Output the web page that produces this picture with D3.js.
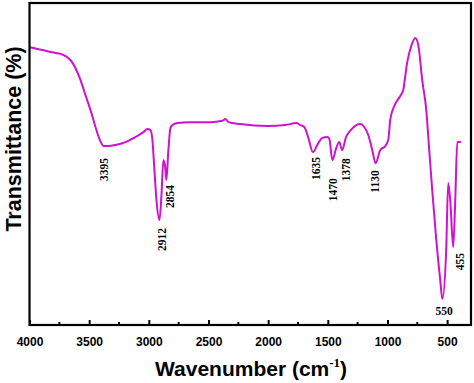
<!DOCTYPE html>
<html>
<head>
<meta charset="utf-8">
<script src="https://cdn.jsdelivr.net/npm/d3@7"></script>
<style>
  body { margin: 0; background: #fff; }
</style>
</head>
<body>
<div id="chart"></div>
<script>
// FTIR spectrum
let wavenumber = [4000, 3891, 3824, 3782, 3740, 3698, 3657, 3615, 3573, 3531, 3489, 3447, 3414, 3380, 3338, 3280, 3196, 3112, 3045, 3012, 2987, 2970, 2953, 2936, 2911, 2894, 2878, 2865, 2853, 2836, 2819, 2802, 2760, 2652, 2484, 2384, 2358, 2333, 2233, 2007, 1856, 1764, 1730, 1697, 1663, 1625, 1580, 1546, 1504, 1487, 1462, 1429, 1404, 1380, 1347, 1306, 1261, 1228, 1194, 1161, 1127, 1100, 1061, 1018, 993, 977, 943, 893, 868, 834, 801, 767, 742, 709, 675, 650, 625, 591, 558, 540, 508, 491, 474, 449, 432, 415, 385];
let transmittance = [86.3, 85.4, 84.8, 84.5, 84.2, 83.5, 82.3, 79.8, 76.1, 71.4, 66.8, 61.5, 57.8, 55.6, 55.6, 55.9, 56.8, 58.4, 59.9, 60.9, 60.6, 57.5, 48.1, 38.8, 32.6, 40.4, 51.2, 49.7, 45.0, 54.3, 61.2, 62.1, 62.7, 63.0, 63.0, 63.4, 64.0, 63.0, 62.4, 61.8, 62.1, 62.7, 62.1, 61.5, 58.1, 53.7, 56.5, 58.1, 58.4, 57.8, 51.2, 55.0, 56.8, 54.3, 58.4, 60.6, 62.1, 62.4, 61.5, 59.0, 54.3, 50.2, 54.3, 55.6, 57.5, 63.7, 68.0, 71.1, 73.0, 81.7, 86.6, 89.1, 87.0, 76.1, 66.8, 54.3, 41.9, 26.4, 14.0, 8.1, 23.3, 44.1, 38.8, 24.2, 38.8, 56.8, 56.8];

let peakLabels = ["3395", "2912", "2854", "1635", "1470", "1378", "1130", "455"];
let peakWave = [3395, 2912, 2854, 1635, 1470, 1378, 1130, 455];
let horizLabel = "550";
let horizWave = 550;

let xTicks = [4000, 3500, 3000, 2500, 2000, 1500, 1000, 500];
let xMinorTicks = [3750, 3250, 2750, 2250, 1750, 1250, 750];

let w = 474;
let h = 383;
let mLeft = 29.5, mRight = 471, mTop = 3, mBottom = 325;

let svg = d3.select("#chart").append("svg")
  .attr("width", w)
  .attr("height", h);

let xScale = d3.scaleLinear().domain([4000, 300]).range([mLeft, mRight]);
let yScale = d3.scaleLinear().domain([0, 100]).range([mBottom, mTop]);

// spectrum line
let line = d3.line()
  .x((d, i) => xScale(wavenumber[i]))
  .y(d => yScale(d))
  .curve(d3.curveMonotoneX);

svg.append("path")
  .datum(transmittance)
  .attr("d", line)
  .attr("fill", "none")
  .attr("stroke", "#d012d0")
  .attr("stroke-width", 2)
  .attr("stroke-linejoin", "round");

// frame
svg.append("rect")
  .attr("x", mLeft)
  .attr("y", mTop)
  .attr("width", mRight - mLeft)
  .attr("height", mBottom - mTop)
  .attr("fill", "none")
  .attr("stroke", "black")
  .attr("stroke-width", 2.2);

// bottom axis, ticks pointing in
let xAxis = d3.axisBottom(xScale)
  .tickValues(xTicks)
  .tickFormat(d3.format("d"))
  .tickSize(-5)
  .tickPadding(12);

let gx = svg.append("g")
  .attr("transform", "translate(0," + mBottom + ")")
  .call(xAxis);
gx.select(".domain").remove();
gx.selectAll(".tick line").attr("stroke-width", 2);
gx.selectAll("text")
  .attr("font-family", "Liberation Sans, Arial, sans-serif")
  .attr("font-weight", "bold")
  .attr("font-size", 12)
  .attr("fill", "black");

svg.append("g")
  .selectAll("line")
  .data(xMinorTicks)
  .enter()
  .append("line")
  .attr("x1", d => xScale(d))
  .attr("x2", d => xScale(d))
  .attr("y1", mBottom)
  .attr("y2", mBottom - 3)
  .attr("stroke", "black")
  .attr("stroke-width", 2);

// peak labels (rotated)
let labelGap = [12, 8, 5, 5, 18, 8, 7, 6];
let labelShift = [2, 3, 4, 4, 2, 4, 3, 7];

function minNear(wv) {
  // lowest transmittance close to the peak
  let best = 100;
  wavenumber.forEach(function(x, i) {
    if (Math.abs(x - wv) < 39 && transmittance[i] < best) best = transmittance[i];
  });
  return best;
}

svg.append("g")
  .selectAll("text")
  .data(peakLabels)
  .enter()
  .append("text")
  .attr("transform", function(d, i) {
    let x = xScale(peakWave[i]) + labelShift[i];
    let y = yScale(minNear(peakWave[i])) + labelGap[i];
    return "translate(" + x + "," + y + ") rotate(-90)";
  })
  .attr("text-anchor", "end")
  .attr("dy", "0.35em")
  .attr("font-family", "Liberation Serif, Times New Roman, serif")
  .attr("font-weight", "bold")
  .attr("font-size", 11.5)
  .text(d => d);

svg.append("text")
  .attr("x", xScale(horizWave) + 3)
  .attr("y", yScale(minNear(horizWave)) + 16)
  .attr("text-anchor", "middle")
  .attr("font-family", "Liberation Serif, Times New Roman, serif")
  .attr("font-weight", "bold")
  .attr("font-size", 11.5)
  .text(horizLabel);

// axis titles
let xTitle = svg.append("text")
  .attr("x", 155)
  .attr("y", 376)
  .attr("font-family", "Liberation Sans, Arial, sans-serif")
  .attr("font-weight", "bold")
  .attr("font-size", 21);
xTitle.append("tspan").text("Wavenumber (cm");
xTitle.append("tspan")
  .attr("font-family", "Liberation Serif, Times New Roman, serif")
  .attr("font-size", 13)
  .attr("dy", -9)
  .text("-1");
xTitle.append("tspan")
  .attr("dy", 9)
  .text(")");

svg.append("text")
  .attr("transform", "translate(21,139) rotate(-90)")
  .attr("text-anchor", "middle")
  .attr("font-family", "Liberation Sans, Arial, sans-serif")
  .attr("font-weight", "bold")
  .attr("font-size", 21.5)
  .text("Transmittance (%)");
</script>
</body>
</html>
